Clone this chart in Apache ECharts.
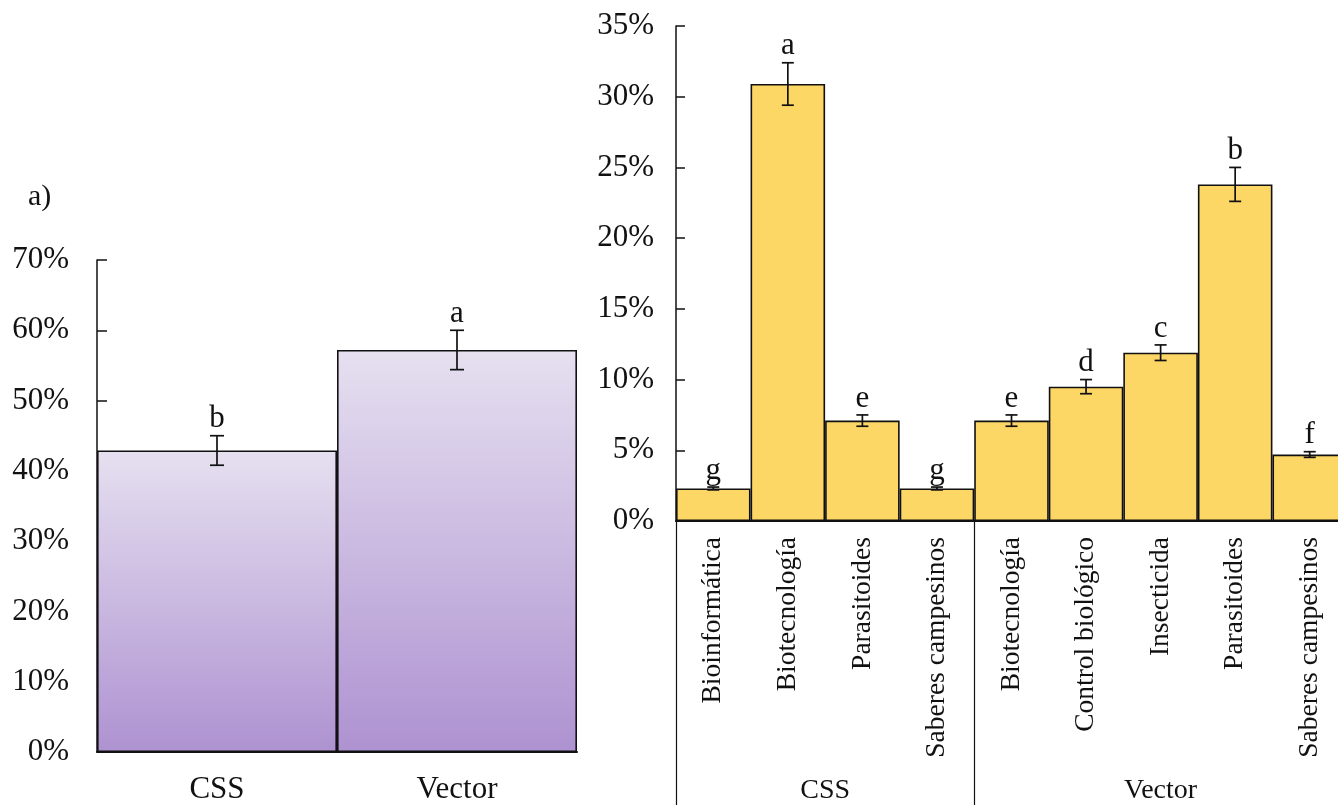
<!DOCTYPE html>
<html>
<head>
<meta charset="utf-8">
<script src="https://cdn.jsdelivr.net/npm/echarts@6/dist/echarts.min.js"></script>
<style>
  html, body { margin: 0; padding: 0; overflow: hidden; background: #fff; }
  #chart { width: 1350px; height: 805px; }
</style>
</head>
<body>
<div id="chart"></div>
<script>
// a) panel
const leftCategories = ['CSS', 'Vector'];
const leftValues = [42.9, 57.2];
const leftErrors = [2.1, 2.8];
const leftLetters = ['b', 'a'];
const leftTicks = { min: 0, max: 70, interval: 10 };

// right panel
const rightCategories = ['Bioinformática', 'Biotecnología', 'Parasitoides', 'Saberes campesinos',
  'Biotecnología', 'Control biológico', 'Insecticida', 'Parasitoides', 'Saberes campesinos'];
const rightValues = [2.3, 30.9, 7.1, 2.3, 7.1, 9.5, 11.9, 23.8, 4.7];
const rightErrors = [0.1, 1.5, 0.4, 0.1, 0.4, 0.5, 0.55, 1.2, 0.2];
const rightLetters = ['g', 'a', 'e', 'g', 'e', 'd', 'c', 'b', 'f'];
const rightTicks = { min: 0, max: 35, interval: 5 };
const groupNames = ['CSS', 'Vector'];
const groupSizes = [4, 5];

const FONT = '"Liberation Serif", "DejaVu Serif", serif';
const INK = '#111';

// group axis runs in half-category steps so that labels can sit between bars
const groupSlots = new Array(rightCategories.length * 2 + 1).fill('');
const groupEdges = [];
let start = 0;
groupNames.forEach((name, i) => {
  groupEdges.push(start * 2);
  groupSlots[start * 2 + groupSizes[i]] = name;
  start += groupSizes[i];
});
groupEdges.push(start * 2);

function errorBars(values, errors, letters, capWidth) {
  return function (params, api) {
    const i = params.dataIndex;
    const hi = api.coord([i, values[i] + errors[i]]);
    const lo = api.coord([i, values[i] - errors[i]]);
    const half = capWidth / 2;
    const style = { stroke: INK, lineWidth: 1.7 };
    return {
      type: 'group',
      children: [
        { type: 'line', shape: { x1: hi[0], y1: hi[1], x2: lo[0], y2: lo[1] }, style: style },
        { type: 'line', shape: { x1: hi[0] - half, y1: hi[1], x2: hi[0] + half, y2: hi[1] }, style: style },
        { type: 'line', shape: { x1: lo[0] - half, y1: lo[1], x2: lo[0] + half, y2: lo[1] }, style: style },
        {
          type: 'text', x: hi[0], y: hi[1] - 1,
          style: { text: letters[i], fill: INK, font: '31px ' + FONT, align: 'center', verticalAlign: 'bottom' }
        }
      ]
    };
  };
}

const chart = echarts.init(document.getElementById('chart'));
chart.setOption({
  animation: false,
  title: {
    text: 'a)', left: 23, top: 177,
    textStyle: { fontFamily: FONT, fontSize: 30, fontWeight: 'normal', color: INK }
  },
  grid: [
    { left: 97, right: 773, top: 260, bottom: 53 },
    { left: 676, right: 3, top: 26, bottom: 284 }
  ],
  xAxis: [
    {
      gridIndex: 0, type: 'category', data: leftCategories,
      axisLine: { lineStyle: { color: INK, width: 2 } },
      axisTick: { length: 10, lineStyle: { color: INK, width: 1.5 } },
      axisLabel: { fontFamily: FONT, fontSize: 31, color: INK, margin: 22 }
    },
    {
      gridIndex: 1, type: 'category', data: rightCategories, position: 'bottom',
      axisLine: { lineStyle: { color: INK, width: 2 } },
      axisTick: { alignWithLabel: true, length: 7, lineStyle: { color: INK, width: 1.2 } },
      axisLabel: { interval: 0, rotate: 90, fontFamily: FONT, fontSize: 27.5, color: INK, margin: 16 }
    },
    {
      gridIndex: 1, type: 'category', data: rightCategories, position: 'bottom',
      axisLine: { show: false },
      axisTick: { interval: 0, length: 236, lineStyle: { color: INK, width: 1.2 } },
      axisLabel: { show: false }
    },
    {
      gridIndex: 1, type: 'category', data: groupSlots, position: 'bottom', boundaryGap: false,
      axisLine: { show: false },
      axisTick: { interval: (idx) => groupEdges.indexOf(idx) >= 0, length: 300, lineStyle: { color: INK, width: 1.2 } },
      axisLabel: { interval: 0, fontFamily: FONT, fontSize: 28, color: INK, margin: 256 }
    }
  ],
  yAxis: [
    {
      gridIndex: 0, type: 'value', min: leftTicks.min, max: leftTicks.max, interval: leftTicks.interval,
      axisLine: { show: true, lineStyle: { color: INK, width: 1.5 } },
      axisTick: { show: true, inside: true, length: 10, lineStyle: { color: INK, width: 1.5 } },
      splitLine: { show: false },
      axisLabel: { formatter: '{value}%', fontFamily: FONT, fontSize: 31, color: INK, margin: 28 }
    },
    {
      gridIndex: 1, type: 'value', min: rightTicks.min, max: rightTicks.max, interval: rightTicks.interval,
      axisLine: { show: true, lineStyle: { color: INK, width: 1.5 } },
      axisTick: { show: true, inside: true, length: 9, lineStyle: { color: INK, width: 1.5 } },
      splitLine: { show: false },
      axisLabel: { formatter: '{value}%', fontFamily: FONT, fontSize: 31, color: INK, margin: 22 }
    }
  ],
  series: [
    {
      type: 'bar', xAxisIndex: 0, yAxisIndex: 0, data: leftValues, barCategoryGap: '0%',
      itemStyle: {
        color: new echarts.graphic.LinearGradient(0, 0, 0, 1, [
          { offset: 0, color: '#E6E0F0' },
          { offset: 1, color: '#AE92D1' }
        ]),
        borderColor: INK, borderWidth: 1.6
      }
    },
    {
      type: 'custom', xAxisIndex: 0, yAxisIndex: 0, z: 5,
      data: leftValues.map((v, i) => [i, v]),
      renderItem: errorBars(leftValues, leftErrors, leftLetters, 14)
    },
    {
      type: 'bar', xAxisIndex: 1, yAxisIndex: 1, data: rightValues, barCategoryGap: '0%',
      itemStyle: { color: '#FDD766', borderColor: INK, borderWidth: 1.6 }
    },
    {
      type: 'custom', xAxisIndex: 1, yAxisIndex: 1, z: 5,
      data: rightValues.map((v, i) => [i, v]),
      renderItem: errorBars(rightValues, rightErrors, rightLetters, 12)
    }
  ]
});
</script>
</body>
</html>
